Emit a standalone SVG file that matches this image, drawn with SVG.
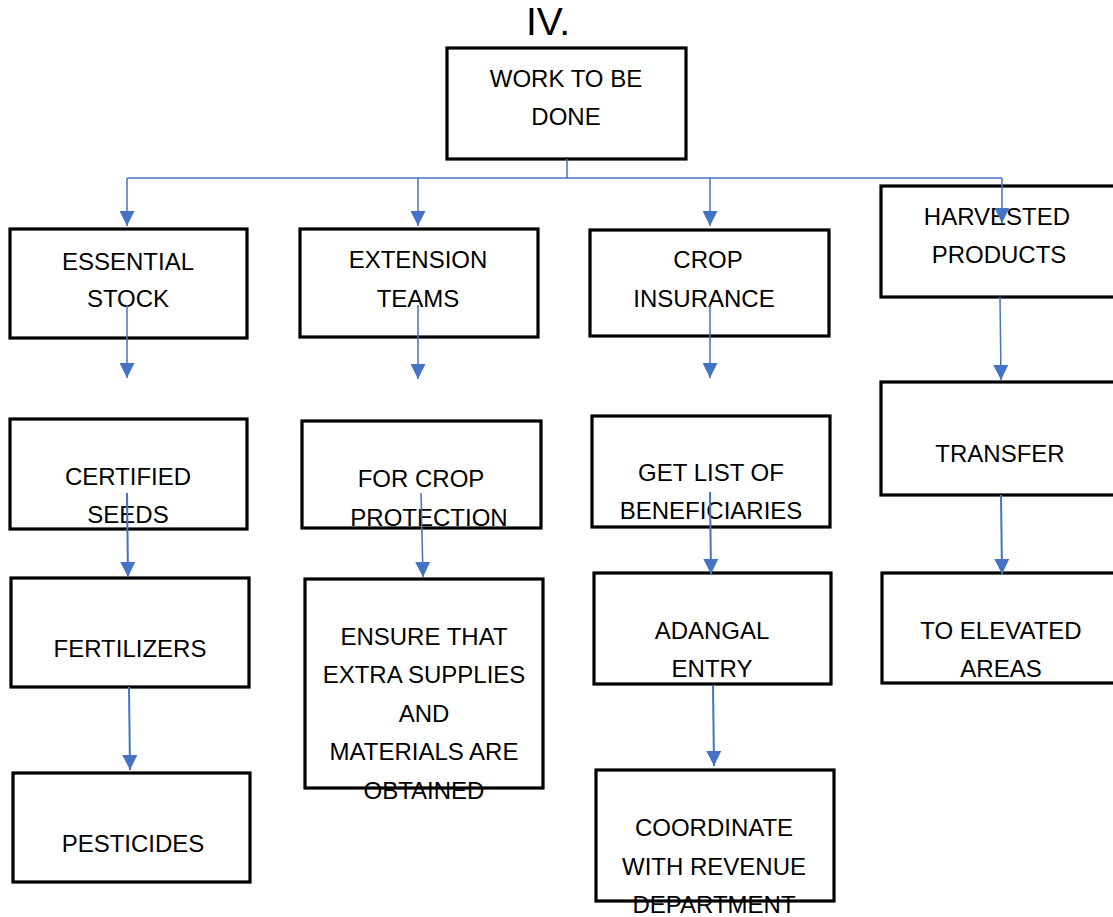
<svg xmlns="http://www.w3.org/2000/svg" width="1113" height="917" viewBox="0 0 1113 917">
  <style>
    .box { fill: #ffffff; stroke: #000000; stroke-width: 3.2; }
    .lbl { font-family: "Liberation Sans", Arial, sans-serif; font-size: 24px; fill: #000000; text-anchor: middle; }
    .title { font-family: "Liberation Sans", Arial, sans-serif; font-size: 39px; fill: #000000; text-anchor: middle; }
    .wire { fill: none; stroke: #4472C4; stroke-width: 1.5; }
    .thick { stroke-width: 2; }
  </style>
  <defs>
    <marker id="arrow" viewBox="0 0 10 10" refX="10" refY="5" markerUnits="userSpaceOnUse" markerWidth="15" markerHeight="15" orient="auto">
      <path d="M0,0 L10,5 L0,10 Z" fill="#4472C4"/>
    </marker>
  </defs>

  <text class="title" x="548" y="35">IV.</text>

  <g id="work-to-be-done">
    <rect class="box" x="447" y="48" width="239" height="111"/>
    <text class="lbl" x="566" y="87">WORK TO BE</text>
    <text class="lbl" x="566" y="125">DONE</text>
  </g>

  <g id="essential-stock">
    <rect class="box" x="10" y="229" width="237" height="109"/>
    <text class="lbl" x="128" y="270">ESSENTIAL</text>
    <text class="lbl" x="128" y="307">STOCK</text>
  </g>
  <g id="extension-teams">
    <rect class="box" x="300" y="229" width="238" height="108"/>
    <text class="lbl" x="418" y="268">EXTENSION</text>
    <text class="lbl" x="418" y="307">TEAMS</text>
  </g>
  <g id="crop-insurance">
    <rect class="box" x="590" y="230" width="239" height="106"/>
    <text class="lbl" x="708" y="268">CROP</text>
    <text class="lbl" x="704" y="307">INSURANCE</text>
  </g>
  <g id="harvested-products">
    <rect class="box" x="881" y="186" width="234" height="111"/>
    <text class="lbl" x="997" y="225">HARVESTED</text>
    <text class="lbl" x="999" y="263">PRODUCTS</text>
  </g>

  <g id="certified-seeds">
    <rect class="box" x="10" y="419" width="237" height="110"/>
    <text class="lbl" x="128" y="485">CERTIFIED</text>
    <text class="lbl" x="128" y="523">SEEDS</text>
  </g>
  <g id="for-crop-protection">
    <rect class="box" x="302" y="421" width="239" height="107"/>
    <text class="lbl" x="421" y="487">FOR CROP</text>
    <text class="lbl" x="429" y="526">PROTECTION</text>
  </g>
  <g id="get-list-of-beneficiaries">
    <rect class="box" x="592" y="416" width="238" height="111"/>
    <text class="lbl" x="711" y="481">GET LIST OF</text>
    <text class="lbl" x="711" y="519">BENEFICIARIES</text>
  </g>
  <g id="transfer">
    <rect class="box" x="881" y="382" width="234" height="113"/>
    <text class="lbl" x="1000" y="462">TRANSFER</text>
  </g>

  <g id="fertilizers">
    <rect class="box" x="11" y="578" width="238" height="109"/>
    <text class="lbl" x="130" y="657">FERTILIZERS</text>
  </g>
  <g id="ensure-supplies">
    <rect class="box" x="305" y="579" width="238" height="209"/>
    <text class="lbl" x="424" y="645">ENSURE THAT</text>
    <text class="lbl" x="424" y="683">EXTRA SUPPLIES</text>
    <text class="lbl" x="424" y="722">AND</text>
    <text class="lbl" x="424" y="760">MATERIALS ARE</text>
    <text class="lbl" x="424" y="799">OBTAINED</text>
  </g>
  <g id="adangal-entry">
    <rect class="box" x="594" y="573" width="237" height="111"/>
    <text class="lbl" x="712" y="639">ADANGAL</text>
    <text class="lbl" x="712" y="677">ENTRY</text>
  </g>
  <g id="to-elevated-areas">
    <rect class="box" x="882" y="573" width="233" height="110"/>
    <text class="lbl" x="1001" y="639">TO ELEVATED</text>
    <text class="lbl" x="1001" y="677">AREAS</text>
  </g>

  <g id="pesticides">
    <rect class="box" x="13" y="773" width="237" height="109"/>
    <text class="lbl" x="133" y="852">PESTICIDES</text>
  </g>
  <g id="coordinate-revenue">
    <rect class="box" x="596" y="770" width="238" height="131"/>
    <text class="lbl" x="714" y="836">COORDINATE</text>
    <text class="lbl" x="714" y="875">WITH REVENUE</text>
    <text class="lbl" x="714" y="913">DEPARTMENT</text>
  </g>

  <g id="connectors">
    <!-- branch bus from the top box -->
    <path class="wire" d="M567,159 V178"/>
    <path class="wire" d="M127,178 H1002"/>
    <path class="wire" d="M127,178 V226" marker-end="url(#arrow)"/>
    <path class="wire" d="M418,178 V226" marker-end="url(#arrow)"/>
    <path class="wire" d="M710,178 V226" marker-end="url(#arrow)"/>
    <path class="wire" d="M1002,178 V223" marker-end="url(#arrow)"/>
    <!-- column chains -->
    <path class="wire" d="M127,305 V378" marker-end="url(#arrow)"/>
    <path class="wire thick" d="M127,493 L128,577" marker-end="url(#arrow)"/>
    <path class="wire thick" d="M129,687 L130,770" marker-end="url(#arrow)"/>
    <path class="wire" d="M418,305 V379" marker-end="url(#arrow)"/>
    <path class="wire" d="M421,493 L423,577" marker-end="url(#arrow)"/>
    <path class="wire" d="M710,305 V378" marker-end="url(#arrow)"/>
    <path class="wire thick" d="M710,492 L711,574" marker-end="url(#arrow)"/>
    <path class="wire thick" d="M713,685 L714,766" marker-end="url(#arrow)"/>
    <path class="wire" d="M1000,297 L1001,380" marker-end="url(#arrow)"/>
    <path class="wire thick" d="M1001,495 L1002,574" marker-end="url(#arrow)"/>
  </g>
</svg>
